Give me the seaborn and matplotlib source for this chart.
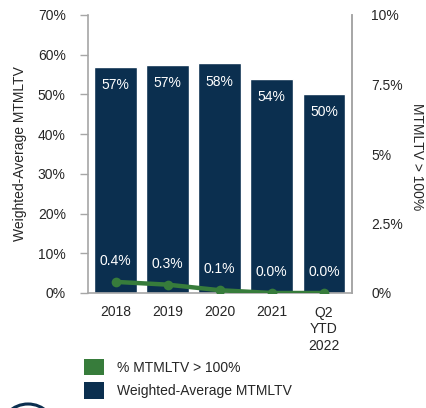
import matplotlib
matplotlib.use("Agg")
import matplotlib.pyplot as plt
from matplotlib.patches import Patch, Ellipse
import seaborn as sns
import pandas as pd

# Data
periods = ["2018", "2019", "2020", "2021", "Q2\nYTD\n2022"]
avg_mtmltv = [56.9, 57.3, 57.8, 53.9, 50.0]        # weighted-average MTMLTV, %
pct_over_100 = [0.4, 0.3, 0.1, 0.0, 0.0]          # share of loans with MTMLTV > 100%, %
left_ticks = [0, 10, 20, 30, 40, 50, 60, 70]
right_ticks = [0, 2.5, 5, 7.5, 10]
right_tick_labels = ["0%", "2.5%", "5%", "7.5%", "10%"]

NAVY = "#0b2f4f"
GREEN = "#377c3b"
SPINE = "#a6a6a6"
TEXT = "#262626"

sns.set_theme(style="white")
plt.rcParams["font.family"] = ["Liberation Sans", "DejaVu Sans"]
plt.rcParams["font.size"] = 10

df = pd.DataFrame({"period": periods, "avg": avg_mtmltv, "over": pct_over_100})

fig = plt.figure(figsize=(4.27, 4.08), dpi=100)
ax = fig.add_axes([88 / 427, 1 - 293 / 408, (352 - 88) / 427, (293 - 15) / 408])

sns.barplot(data=df, x="period", y="avg", color=NAVY, saturation=1,
            width=0.82, ax=ax, zorder=2)
ax.set_ylim(0, 70)
ax.set_yticks(left_ticks)
ax.set_yticklabels([f"{t}%" for t in left_ticks])
ax.set_xlim(-0.53, 4.54)
ax.set_xlabel("")
ax.set_ylabel("Weighted-Average MTMLTV", fontsize=10, color=TEXT, labelpad=8)
ax.tick_params(axis="y", length=6, width=1, color=SPINE, pad=10, labelsize=10,
               labelcolor=TEXT, left=True)
ax.tick_params(axis="x", length=0, pad=9, labelsize=10, labelcolor=TEXT)
for lbl in ax.get_xticklabels():
    lbl.set_linespacing(1.25)
    lbl.set_verticalalignment("top")

for i, v in enumerate(avg_mtmltv):
    ax.annotate(f"{v:.0f}%", (i, v), xytext=(0, -13), textcoords="offset points",
                ha="center", va="center", color="white", fontsize=10)

ax2 = ax.twinx()
sns.lineplot(data=df, x=range(len(periods)), y="over", color=GREEN, linewidth=3.2,
             marker="o", markersize=7, markeredgewidth=0, ax=ax2, zorder=3)
ax2.set_ylim(0, 10)
ax2.set_yticks(right_ticks)
ax2.set_yticklabels(right_tick_labels)
ax2.set_xlim(-0.53, 4.54)
ax2.set_ylabel("MTMLTV > 100%", rotation=270, fontsize=10, color=TEXT)
ax2.yaxis.set_label_coords((417 - 88) / 264, 0.49)
ax2.yaxis.label.set_verticalalignment("center")
ax2.yaxis.label.set_horizontalalignment("center")
ax2.tick_params(axis="y", length=0, pad=14, labelsize=10, labelcolor=TEXT)

for i, v in enumerate(pct_over_100):
    ax2.annotate(f"{v:.1f}%", (i, v), xytext=(0, 15), textcoords="offset points",
                 ha="center", va="center", color="white", fontsize=10)

for a in (ax, ax2):
    a.spines["top"].set_visible(False)
    for side in ("left", "right", "bottom"):
        a.spines[side].set_color(SPINE)
        a.spines[side].set_linewidth(1.2)
ax2.spines["left"].set_visible(False)
ax2.spines["bottom"].set_visible(False)

handles = [Patch(facecolor=GREEN, edgecolor="none", label="% MTMLTV > 100%"),
           Patch(facecolor=NAVY, edgecolor="none", label="Weighted-Average MTMLTV")]
fig.legend(handles=handles, loc="upper left", bbox_to_anchor=(84 / 427, 1 - 359 / 408),
           frameon=False, fontsize=10, handlelength=1.45, handleheight=1.45,
           handletextpad=0.9, labelspacing=0.5, borderpad=0, borderaxespad=0,
           labelcolor=TEXT)

# corner emblem ring
fig.patches.append(Ellipse((28 / 427, 1 - 432 / 408), 56 / 427, 56 / 408,
                           transform=fig.transFigure, fill=False,
                           edgecolor=NAVY, linewidth=2.2))

fig.savefig("out.png", dpi=100)
